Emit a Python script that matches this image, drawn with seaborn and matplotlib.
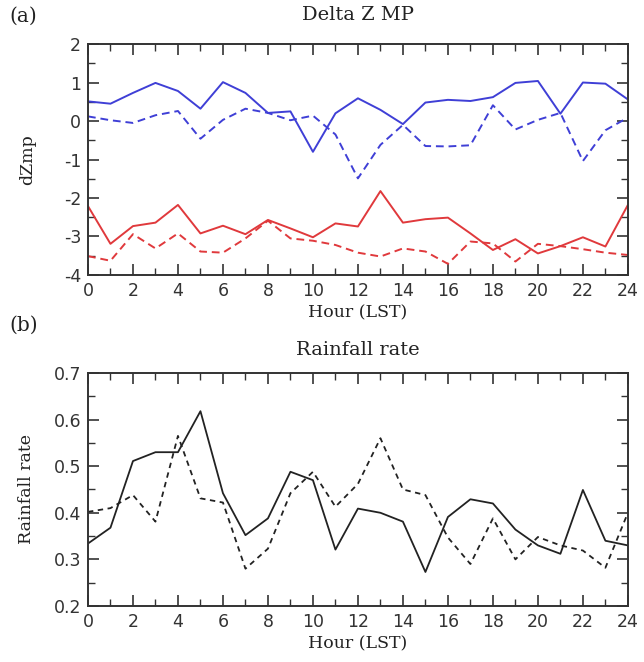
import numpy as np
import pandas as pd
import seaborn as sns
import matplotlib.pyplot as plt
from matplotlib.ticker import MultipleLocator

hours = list(range(25))

# panel (a): Delta Z MP
blue_solid = [0.51, 0.45, 0.73, 0.99, 0.78, 0.32, 1.01, 0.73, 0.21, 0.25, -0.80, 0.20, 0.59,
              0.29, -0.08, 0.48, 0.55, 0.52, 0.62, 0.99, 1.04, 0.19, 1.00, 0.97, 0.56]
blue_dash = [0.12, 0.02, -0.05, 0.15, 0.26, -0.46, 0.03, 0.32, 0.21, 0.02, 0.14, -0.35, -1.49,
             -0.62, -0.10, -0.65, -0.66, -0.63, 0.41, -0.22, 0.03, 0.21, -1.04, -0.24, 0.09]
red_solid = [-2.21, -3.19, -2.73, -2.64, -2.18, -2.92, -2.72, -2.94, -2.57, -2.79, -3.02, -2.66, -2.74,
             -1.82, -2.64, -2.55, -2.51, -2.92, -3.35, -3.07, -3.44, -3.25, -3.02, -3.26, -2.18]
red_dash = [-3.51, -3.63, -2.94, -3.31, -2.92, -3.39, -3.42, -3.05, -2.59, -3.05, -3.11, -3.22, -3.42,
            -3.52, -3.31, -3.39, -3.71, -3.13, -3.18, -3.65, -3.19, -3.25, -3.33, -3.42, -3.48]

# panel (b): Rainfall rate
rain_solid = [0.334, 0.368, 0.511, 0.530, 0.530, 0.618, 0.442, 0.352, 0.388, 0.488, 0.470, 0.321, 0.409,
              0.400, 0.381, 0.273, 0.391, 0.429, 0.420, 0.364, 0.330, 0.312, 0.449, 0.340, 0.330]
rain_dash = [0.402, 0.410, 0.438, 0.381, 0.565, 0.431, 0.422, 0.280, 0.323, 0.442, 0.488, 0.413, 0.462,
             0.560, 0.450, 0.438, 0.347, 0.290, 0.388, 0.300, 0.348, 0.330, 0.319, 0.282, 0.400]

sns.set_style("ticks")
plt.rcParams['font.family'] = ['DejaVu Sans']

serif = 'DejaVu Serif'

fig = plt.figure(figsize=(6.44, 6.62), dpi=100)
ax1 = fig.add_axes([0.1366, 0.5846, 0.8384, 0.3489])
ax2 = fig.add_axes([0.1366, 0.0846, 0.8384, 0.3520])

blue = '#3f3fd6'
red = '#e0393c'

sns.lineplot(x=hours, y=blue_solid, ax=ax1, color=blue, lw=1.4)
sns.lineplot(x=hours, y=blue_dash, ax=ax1, color=blue, lw=1.4, linestyle=(0, (4, 2.5)))
sns.lineplot(x=hours, y=red_solid, ax=ax1, color=red, lw=1.4)
sns.lineplot(x=hours, y=red_dash, ax=ax1, color=red, lw=1.4, linestyle=(0, (4, 2.5)))

sns.lineplot(x=hours, y=rain_solid, ax=ax2, color='#222222', lw=1.3)
sns.lineplot(x=hours, y=rain_dash, ax=ax2, color='#222222', lw=1.3, linestyle=(0, (3, 2.5)))

def style(ax, ylo, yhi, major, minor, fmt):
    ax.set_xlim(0, 24)
    ax.set_ylim(ylo, yhi)
    ax.xaxis.set_major_locator(MultipleLocator(2))
    ax.xaxis.set_minor_locator(MultipleLocator(1))
    ax.yaxis.set_major_locator(MultipleLocator(major))
    ax.yaxis.set_minor_locator(MultipleLocator(minor))
    ax.tick_params(which='both', direction='in', top=True, right=True, color='#333333')
    ax.tick_params(which='major', length=8, width=1.2, labelsize=12.5, pad=5, labelcolor='#333333')
    ax.tick_params(which='minor', length=5, width=1.0)
    for s in ax.spines.values():
        s.set_linewidth(1.4)
        s.set_color('#333333')
    ax.set_yticks(np.arange(ylo, yhi + minor / 2, major))
    ax.set_yticklabels([fmt(v) for v in np.arange(ylo, yhi + minor / 2, major)])
    ax.set_xlabel('Hour (LST)', family=serif, fontsize=12.5, labelpad=3, color='#222222')

style(ax1, -4, 2, 1, 0.5, lambda v: '%d' % round(v))
style(ax2, 0.2, 0.7, 0.1, 0.05, lambda v: '%.1f' % v)

ax1.set_ylabel('dZmp', family=serif, fontsize=12.5, labelpad=20, color='#222222')
ax2.set_ylabel('Rainfall rate', family=serif, fontsize=12.5, labelpad=13, color='#222222')

ax1.set_title('Delta Z MP', family=serif, fontsize=14, pad=17, color='#222222')
ax2.set_title('Rainfall rate', family=serif, fontsize=14, pad=13, color='#222222')

fig.text(0.015, 0.975, '(a)', family=serif, fontsize=14.5, color='#222222', va='center')
fig.text(0.015, 0.508, '(b)', family=serif, fontsize=14.5, color='#222222', va='center')

fig.savefig('out.png', dpi=100)
